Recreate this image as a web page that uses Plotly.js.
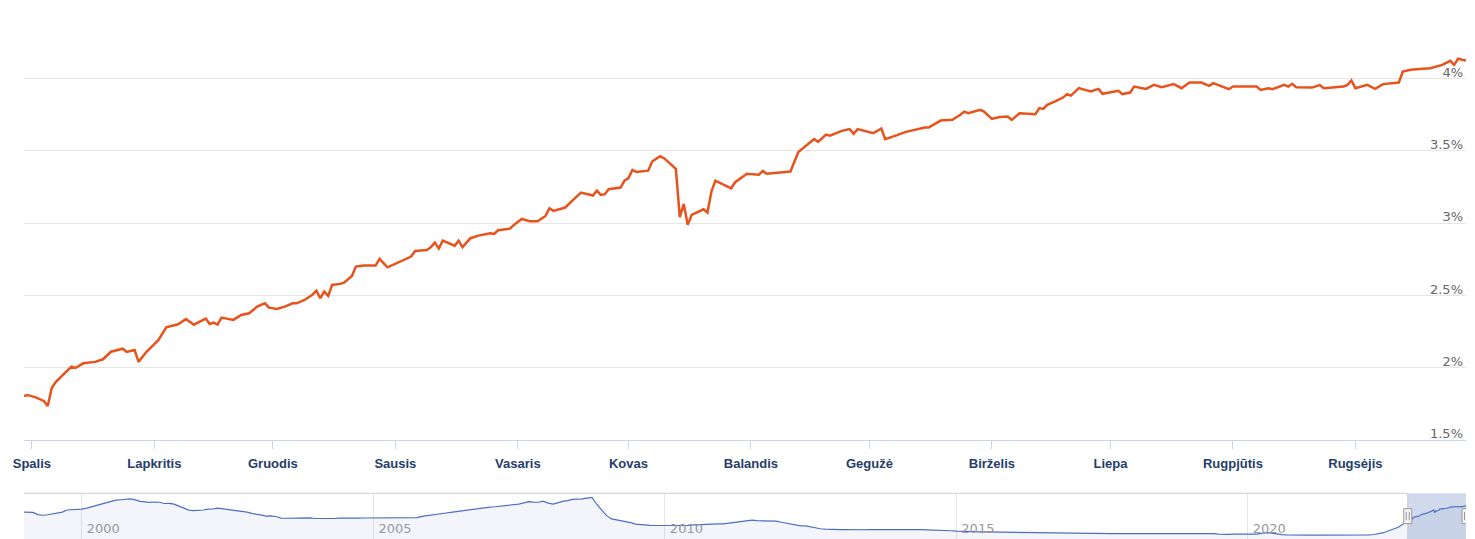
<!DOCTYPE html>
<html>
<head>
<meta charset="utf-8">
<script src="https://cdn.plot.ly/plotly-3.0.1.min.js"></script>
<style>
  html, body { margin: 0; padding: 0; background: #ffffff; }
  #chart { width: 1475px; height: 539px; }
</style>
</head>
<body>
<div id="chart"></div>
<script>
// ---------- main series (daily) ----------
const rateDates = [
  '2022-09-29','2022-09-30','2022-10-02','2022-10-04','2022-10-05','2022-10-06','2022-10-07','2022-10-09','2022-10-11','2022-10-12',
  '2022-10-14','2022-10-17','2022-10-19','2022-10-21','2022-10-24','2022-10-25','2022-10-27','2022-10-28','2022-10-30','2022-11-02',
  '2022-11-03','2022-11-04','2022-11-07','2022-11-09','2022-11-11','2022-11-14','2022-11-15','2022-11-16','2022-11-17','2022-11-18',
  '2022-11-21','2022-11-23','2022-11-25','2022-11-27','2022-11-29','2022-11-30','2022-12-02','2022-12-04','2022-12-06','2022-12-07',
  '2022-12-09','2022-12-11','2022-12-12','2022-12-13','2022-12-14','2022-12-15','2022-12-16','2022-12-18','2022-12-19','2022-12-21',
  '2022-12-22','2022-12-24','2022-12-27','2022-12-28','2022-12-30','2023-01-01','2023-01-03','2023-01-05','2023-01-06','2023-01-09',
  '2023-01-10','2023-01-11','2023-01-12','2023-01-13','2023-01-15','2023-01-16','2023-01-17','2023-01-18','2023-01-20','2023-01-22',
  '2023-01-25','2023-01-26','2023-01-27','2023-01-30','2023-01-31','2023-02-02','2023-02-04','2023-02-06','2023-02-08','2023-02-09',
  '2023-02-10','2023-02-13','2023-02-15','2023-02-17','2023-02-20','2023-02-21','2023-02-22','2023-02-23','2023-02-24','2023-02-27',
  '2023-02-28','2023-03-01','2023-03-02','2023-03-03','2023-03-06','2023-03-07','2023-03-09','2023-03-10','2023-03-13','2023-03-14',
  '2023-03-15','2023-03-16','2023-03-17','2023-03-20','2023-03-21','2023-03-22','2023-03-23','2023-03-25','2023-03-27','2023-03-28',
  '2023-03-31','2023-04-03','2023-04-04','2023-04-05','2023-04-08','2023-04-11','2023-04-13','2023-04-15','2023-04-17','2023-04-18',
  '2023-04-20','2023-04-21','2023-04-24','2023-04-26','2023-04-27','2023-04-28','2023-05-02','2023-05-04','2023-05-05','2023-05-08',
  '2023-05-10','2023-05-15','2023-05-16','2023-05-19','2023-05-22','2023-05-24','2023-05-25','2023-05-26','2023-05-29','2023-05-30',
  '2023-06-01','2023-06-03','2023-06-05','2023-06-06','2023-06-08','2023-06-12','2023-06-13','2023-06-14','2023-06-15','2023-06-17',
  '2023-06-19','2023-06-20','2023-06-21','2023-06-23','2023-06-26','2023-06-28','2023-06-29','2023-07-03','2023-07-04','2023-07-06',
  '2023-07-07','2023-07-10','2023-07-12','2023-07-14','2023-07-17','2023-07-19','2023-07-21','2023-07-24','2023-07-26','2023-07-27',
  '2023-07-31','2023-08-01','2023-08-05','2023-08-07','2023-08-08','2023-08-10','2023-08-11','2023-08-14','2023-08-15','2023-08-16',
  '2023-08-17','2023-08-21','2023-08-23','2023-08-24','2023-08-29','2023-08-30','2023-08-31','2023-09-01','2023-09-04','2023-09-06',
  '2023-09-08','2023-09-12','2023-09-13','2023-09-15','2023-09-18','2023-09-20','2023-09-23','2023-09-25','2023-09-26','2023-09-27',
  '2023-09-28','2023-09-29'
];
const rateValues = [
  1.806,1.810,1.795,1.770,1.735,1.858,1.900,1.956,2.007,1.998,
  2.030,2.040,2.058,2.110,2.131,2.109,2.122,2.040,2.110,2.190,
  2.230,2.279,2.300,2.337,2.297,2.339,2.302,2.311,2.297,2.346,
  2.330,2.364,2.376,2.422,2.445,2.415,2.406,2.422,2.445,2.445,
  2.468,2.503,2.533,2.480,2.526,2.496,2.572,2.579,2.588,2.634,
  2.699,2.706,2.706,2.752,2.694,2.717,2.745,2.768,2.807,2.814,
  2.833,2.864,2.823,2.878,2.855,2.842,2.878,2.833,2.895,2.913,
  2.929,2.925,2.950,2.961,2.987,3.028,3.012,3.012,3.049,3.102,
  3.084,3.107,3.160,3.210,3.190,3.224,3.194,3.199,3.234,3.245,
  3.293,3.310,3.367,3.353,3.362,3.425,3.462,3.448,3.374,3.040,
  3.132,2.987,3.056,3.095,3.072,3.217,3.293,3.268,3.240,3.282,
  3.340,3.333,3.360,3.340,3.349,3.356,3.490,3.535,3.580,3.561,
  3.611,3.604,3.637,3.649,3.616,3.649,3.621,3.653,3.580,3.607,
  3.628,3.660,3.660,3.708,3.713,3.748,3.770,3.759,3.782,3.770,
  3.720,3.732,3.736,3.713,3.759,3.752,3.794,3.789,3.817,3.840,
  3.867,3.891,3.881,3.932,3.909,3.927,3.893,3.914,3.891,3.902,
  3.943,3.927,3.955,3.939,3.960,3.932,3.971,3.971,3.948,3.967,
  3.925,3.943,3.943,3.943,3.920,3.932,3.925,3.955,3.943,3.962,
  3.939,3.936,3.953,3.932,3.943,3.955,3.985,3.932,3.955,3.927,
  3.960,3.971,4.047,4.059,4.066,4.070,4.093,4.121,4.093,4.135,
  4.128,4.123
];

// ---------- month tick labels ----------
const monthTickDates = ['2022-10-01','2022-11-01','2022-12-01','2023-01-01','2023-02-01','2023-03-01',
                        '2023-04-01','2023-05-01','2023-06-01','2023-07-01','2023-08-01','2023-09-01'];
const monthTickLabels = ['Spalis','Lapkritis','Gruodis','Sausis','Vasaris','Kovas',
                         'Balandis','Gegužė','Birželis','Liepa','Rugpjūtis','Rugsėjis'];

// ---------- y ticks ----------
const yTickValues = [1.5, 2, 2.5, 3, 3.5, 4, 4.5];
const yTickLabels = ['1.5%', '2%', '2.5%', '3%', '3.5%', '4%', ''];

// ---------- navigator history (monthly, Jan 1999 .. Sep 2022, read from the navigator) ----------
const navStartYear = 1999;
const navHistory = [
  3.09,3.07,3.05,2.70,2.60,2.68,2.78,2.97,3.10,3.43,3.47,3.52,   // 1999
  3.56,3.73,3.94,4.08,4.39,4.62,4.76,4.98,5.04,5.14,5.16,5.01,   // 2000
  4.78,4.71,4.61,4.68,4.64,4.45,4.47,4.35,4.00,3.67,3.40,3.33,   // 2001
  3.35,3.43,3.56,3.58,3.72,3.62,3.52,3.39,3.23,3.17,3.10,2.89,   // 2002
  2.81,2.63,2.47,2.51,2.40,2.15,2.13,2.14,2.15,2.14,2.20,2.20,   // 2003
  2.09,2.07,2.03,2.05,2.09,2.14,2.12,2.11,2.13,2.15,2.17,2.17,   // 2004
  2.14,2.14,2.16,2.14,2.13,2.11,2.13,2.16,2.17,2.22,2.42,2.55,   // 2005
  2.60,2.72,2.87,2.96,3.05,3.16,3.29,3.41,3.53,3.60,3.68,3.79,   // 2006
  3.89,3.94,4.00,4.10,4.20,4.28,4.36,4.54,4.74,4.65,4.64,4.82,   // 2007
  4.50,4.36,4.59,4.78,4.90,5.09,5.15,5.16,5.30,5.42,4.29,3.37,   // 2008
  2.54,2.03,1.91,1.77,1.65,1.44,1.21,1.12,1.04,1.02,0.99,0.99,   // 2009
  0.97,0.96,0.95,0.96,0.98,1.01,1.10,1.15,1.14,1.22,1.27,1.25,   // 2010
  1.26,1.35,1.48,1.62,1.71,1.75,1.82,1.75,1.74,1.78,1.71,1.67,   // 2011
  1.50,1.35,1.16,0.97,0.93,0.93,0.78,0.56,0.48,0.41,0.36,0.32,   // 2012
  0.34,0.36,0.33,0.32,0.30,0.32,0.34,0.34,0.34,0.34,0.32,0.37,   // 2013
  0.40,0.39,0.41,0.43,0.42,0.33,0.30,0.29,0.20,0.18,0.18,0.17,   // 2014
  0.10,0.06,0.04,0.00,-0.01,-0.01,-0.02,-0.03,-0.04,-0.07,-0.09,-0.13, // 2015
  -0.16,-0.18,-0.13,-0.14,-0.14,-0.16,-0.19,-0.19,-0.20,-0.21,-0.21,-0.22, // 2016
  -0.24,-0.24,-0.24,-0.25,-0.25,-0.27,-0.27,-0.27,-0.27,-0.27,-0.27,-0.27, // 2017
  -0.27,-0.27,-0.27,-0.27,-0.27,-0.27,-0.27,-0.27,-0.27,-0.26,-0.26,-0.24, // 2018
  -0.24,-0.23,-0.23,-0.23,-0.24,-0.29,-0.37,-0.41,-0.40,-0.36,-0.34,-0.34, // 2019
  -0.33,-0.36,-0.36,-0.20,-0.14,-0.22,-0.36,-0.44,-0.48,-0.51,-0.52,-0.52, // 2020
  -0.53,-0.52,-0.52,-0.52,-0.51,-0.51,-0.51,-0.52,-0.53,-0.53,-0.52,-0.54, // 2021
  -0.54,-0.50,-0.42,-0.31,-0.14,0.16,0.46,0.71,1.25                        // 2022 (Jan..Sep)
];
const navYearTickDates = ['2000-01-01','2005-01-01','2010-01-01','2015-01-01','2020-01-01'];
const navYearTickLabels = ['2000','2005','2010','2015','2020'];

// ---------- build navigator series: monthly history followed by the daily data ----------
const navX = [], navY = [];
navHistory.forEach((v, i) => {
  const y = navStartYear + Math.floor(i / 12);
  const m = (i % 12) + 1;
  navX.push(y + '-' + String(m).padStart(2, '0') + '-01');
  navY.push(v);
});
rateDates.forEach((d, i) => { navX.push(d); navY.push(rateValues[i]); });

const navStart = '1999-01-04';
const navEnd = rateDates[rateDates.length - 1];
const selStart = rateDates[0];
const selEnd = rateDates[rateDates.length - 1];
const navMin = -1.13, navMax = 6.05;
const handleMid = (navMin + navMax) / 2;
navX[0] = navStart;

const H = 539;
const px = (top) => (H - top) / H;   // pixel from top -> paper fraction

const traces = [
  {
    x: rateDates, y: rateValues, type: 'scatter', mode: 'lines',
    xaxis: 'x', yaxis: 'y',
    line: { color: '#e8531b', width: 2.5 },
    hoverinfo: 'skip'
  },
  {
    x: [navStart, navEnd], y: [navMin, navMin], type: 'scatter', mode: 'lines',
    xaxis: 'x2', yaxis: 'y2', line: { width: 0, color: 'rgba(0,0,0,0)' }, hoverinfo: 'skip'
  },
  {
    x: navX, y: navY, type: 'scatter', mode: 'lines',
    xaxis: 'x2', yaxis: 'y2',
    fill: 'tonexty', fillcolor: 'rgba(51,92,173,0.06)',
    line: { color: '#4a6fc4', width: 1.2 },
    hoverinfo: 'skip'
  }
];

function handle(xd) {
  return [
    { type: 'rect', xref: 'x2', yref: 'y2', xsizemode: 'pixel', ysizemode: 'pixel',
      xanchor: xd, yanchor: handleMid, x0: -4, x1: 4, y0: -7.5, y1: 7.5,
      fillcolor: '#f2f2f2', line: { color: '#999999', width: 1 }, layer: 'above' },
    { type: 'line', xref: 'x2', yref: 'y2', xsizemode: 'pixel', ysizemode: 'pixel',
      xanchor: xd, yanchor: handleMid, x0: -1.5, x1: -1.5, y0: -4, y1: 4,
      line: { color: '#999999', width: 1 }, layer: 'above' },
    { type: 'line', xref: 'x2', yref: 'y2', xsizemode: 'pixel', ysizemode: 'pixel',
      xanchor: xd, yanchor: handleMid, x0: 1.5, x1: 1.5, y0: -4, y1: 4,
      line: { color: '#999999', width: 1 }, layer: 'above' }
  ];
}

const shapes = [
  // navigator mask over the selected range
  { type: 'rect', xref: 'x2', yref: 'y2 domain', x0: selStart, x1: selEnd, y0: 0, y1: 1,
    fillcolor: 'rgba(102,133,194,0.3)', line: { width: 0 }, layer: 'above' },
  // navigator outline
  { type: 'line', xref: 'x2', yref: 'y2 domain', x0: navStart, x1: selStart, y0: 1, y1: 1,
    line: { color: '#cccccc', width: 1 }, layer: 'above' },
  { type: 'line', xref: 'x2', yref: 'y2 domain', x0: selStart, x1: selStart, y0: 0, y1: 1,
    line: { color: '#cccccc', width: 1 }, layer: 'above' },
  ...handle(selStart),
  ...handle(selEnd)
];

const layout = {
  width: 1475, height: H,
  margin: { l: 24, r: 9, t: 0, b: 0, pad: 0 },
  paper_bgcolor: '#ffffff', plot_bgcolor: 'rgba(0,0,0,0)',
  showlegend: false, hovermode: false,
  xaxis: {
    type: 'date', anchor: 'y', domain: [0, 1],
    range: [rateDates[0], rateDates[rateDates.length - 1]],
    tickmode: 'array', tickvals: monthTickDates, ticktext: monthTickLabels,
    ticks: 'outside', ticklen: 8, tickwidth: 1, tickcolor: '#ccd6eb',
    showline: true, linecolor: '#ccd6eb', linewidth: 1,
    showgrid: false, zeroline: false,
    ticklabelstandoff: 3,
    tickfont: { family: 'Liberation Sans, Arial, sans-serif', size: 13, color: '#253d6b', weight: 'bold' }
  },
  yaxis: {
    anchor: 'x', domain: [px(440), px(6)],
    range: [1.5, 4.5], side: 'right',
    tickmode: 'array', tickvals: yTickValues, ticktext: yTickLabels,
    ticklabelposition: 'inside top',
    ticklabelshift: 3,
    ticklabeloverflow: 'allow',
    showgrid: true, gridcolor: '#e6e6e6', gridwidth: 1,
    showline: false, zeroline: false, ticks: '',
    tickfont: { family: 'DejaVu Sans, sans-serif', size: 13, color: '#666666' }
  },
  xaxis2: {
    type: 'date', anchor: 'y2', domain: [0, 1],
    range: [navStart, navEnd],
    tickmode: 'array', tickvals: navYearTickDates, ticktext: navYearTickLabels,
    ticklabelposition: 'inside right', ticks: '',
    ticklabelshift: 5, ticklabelstandoff: -3,
    showgrid: true, gridcolor: '#e6e6e6', gridwidth: 1,
    showline: false, zeroline: false,
    tickfont: { family: 'DejaVu Sans, sans-serif', size: 13, color: '#999999' }
  },
  yaxis2: {
    anchor: 'x2', domain: [0, px(493.3)],
    range: [navMin, navMax],
    showticklabels: false, showgrid: false, zeroline: false, showline: false, ticks: ''
  },
  shapes: shapes
};

Plotly.newPlot('chart', traces, layout, { displayModeBar: false, staticPlot: true });
</script>
</body>
</html>
